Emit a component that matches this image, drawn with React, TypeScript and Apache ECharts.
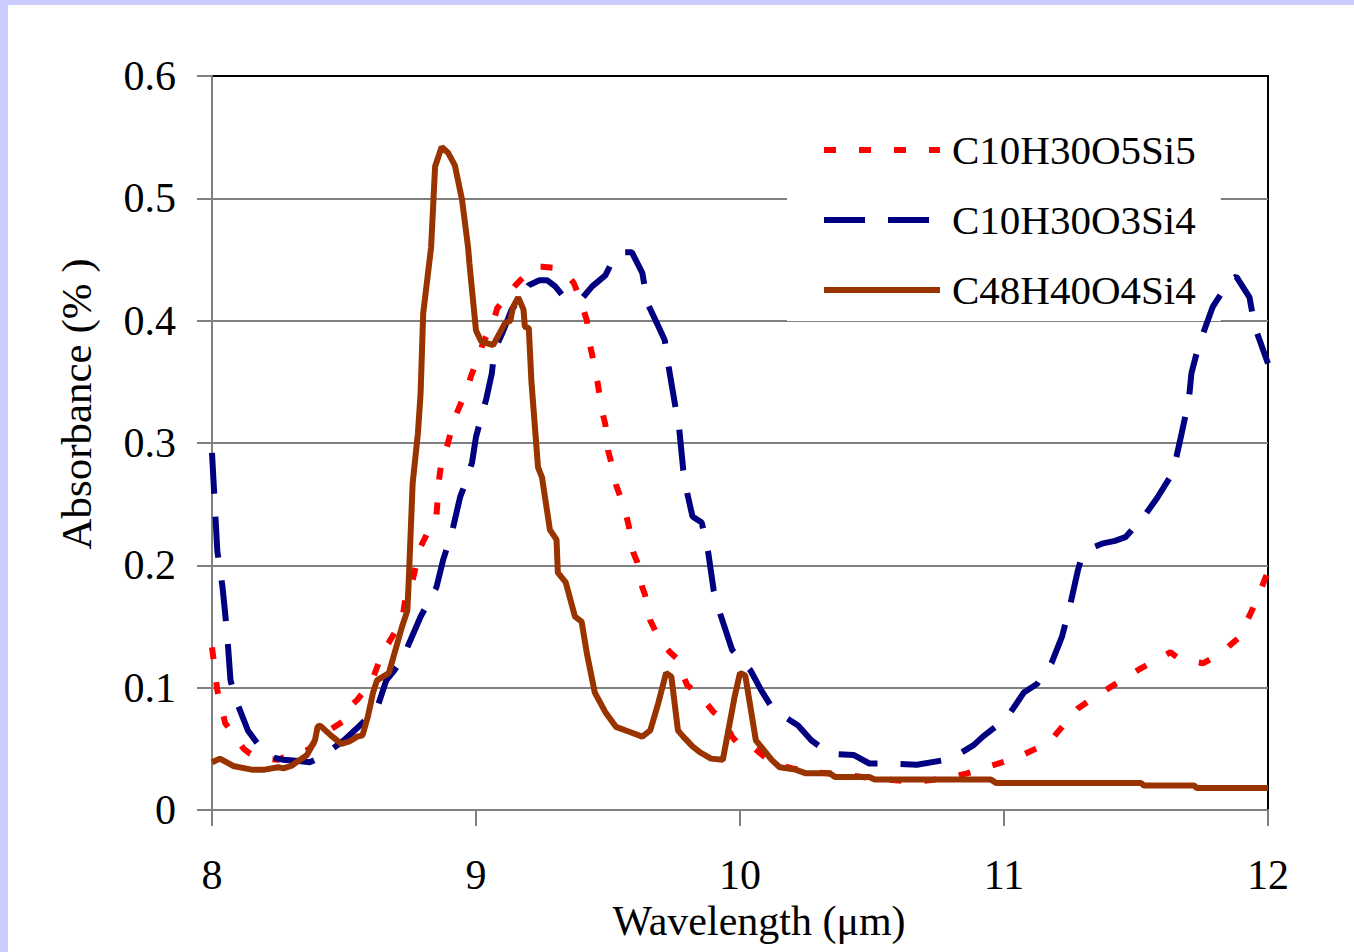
import React, { useEffect, useRef } from "react";
import * as echarts from "echarts";

const FONT = "'Liberation Serif', 'Times New Roman', serif";

const seriesNames = ["C10H30O5Si5", "C10H30O3Si4", "C48H40O4Si4"];

const xTicks = [8, 9, 10, 11, 12];
const yTicks = [0, 0.1, 0.2, 0.3, 0.4, 0.5, 0.6];

// C10H30O5Si5 (red, short dashes)
const redX = [8.0, 8.02, 8.05, 8.12, 8.145, 8.2, 8.25, 8.27, 8.33, 8.37, 8.4, 8.45, 8.5, 8.51, 8.55, 8.59, 8.61, 8.65, 8.67, 8.72, 8.74, 8.76, 8.79, 8.84, 8.85, 8.86, 8.875, 8.89, 8.92, 8.97, 8.98, 9.015, 9.027, 9.065, 9.08, 9.12, 9.15, 9.19, 9.216, 9.25, 9.3, 9.337, 9.37, 9.39, 9.41, 9.42, 9.43, 9.44, 9.46, 9.48, 9.49, 9.5, 9.51, 9.53, 9.545, 9.57, 9.58, 9.595, 9.61, 9.63, 9.64, 9.66, 9.68, 9.71, 9.735, 9.76, 9.78, 9.8, 9.83, 9.87, 9.9, 9.935, 9.97, 10.0, 10.045, 10.09, 10.14, 10.2, 10.27, 10.39, 10.5, 10.66, 10.79, 10.86, 10.92, 11.04, 11.1, 11.17, 11.22, 11.28, 11.34, 11.4, 11.46, 11.52, 11.58, 11.63, 11.655, 11.7, 11.755, 11.82, 11.89, 11.95, 12.0];
const redY = [0.133, 0.098, 0.071, 0.05, 0.046, 0.042, 0.041, 0.043, 0.046, 0.05, 0.059, 0.066, 0.073, 0.082, 0.09, 0.101, 0.108, 0.131, 0.137, 0.155, 0.183, 0.188, 0.215, 0.237, 0.24, 0.27, 0.294, 0.297, 0.321, 0.346, 0.354, 0.374, 0.382, 0.398, 0.41, 0.421, 0.429, 0.438, 0.444, 0.444, 0.443, 0.439, 0.431, 0.42, 0.407, 0.4, 0.382, 0.372, 0.35, 0.324, 0.315, 0.294, 0.286, 0.266, 0.257, 0.24, 0.231, 0.211, 0.203, 0.182, 0.176, 0.155, 0.146, 0.135, 0.129, 0.124, 0.112, 0.102, 0.097, 0.088, 0.08, 0.074, 0.06, 0.052, 0.052, 0.044, 0.037, 0.034, 0.031, 0.029, 0.026, 0.023, 0.026, 0.03, 0.034, 0.042, 0.048, 0.055, 0.068, 0.083, 0.092, 0.1, 0.108, 0.116, 0.123, 0.129, 0.125, 0.122, 0.12, 0.128, 0.141, 0.168, 0.195];

// C10H30O3Si4 (navy, long dashes)
const blueX = [8.0, 8.02, 8.04, 8.057, 8.07, 8.09, 8.105, 8.136, 8.17, 8.2, 8.23, 8.27, 8.33, 8.37, 8.4, 8.45, 8.5, 8.55, 8.625, 8.66, 8.69, 8.71, 8.74, 8.79, 8.81, 8.85, 8.875, 8.91, 8.94, 8.965, 8.985, 9.0, 9.04, 9.06, 9.07, 9.1, 9.135, 9.17, 9.2, 9.24, 9.27, 9.3, 9.33, 9.36, 9.405, 9.44, 9.49, 9.52, 9.545, 9.59, 9.63, 9.65, 9.685, 9.715, 9.73, 9.755, 9.77, 9.785, 9.8, 9.82, 9.855, 9.88, 9.9, 9.924, 9.97, 10.04, 10.08, 10.12, 10.17, 10.22, 10.27, 10.34, 10.43, 10.49, 10.58, 10.67, 10.78, 10.8, 10.885, 10.92, 11.01, 11.075, 11.125, 11.18, 11.22, 11.25, 11.28, 11.295, 11.33, 11.375, 11.42, 11.46, 11.53, 11.58, 11.64, 11.67, 11.7, 11.71, 11.74, 11.75, 11.79, 11.855, 11.88, 11.93, 11.95, 12.0];
const blueY = [0.292, 0.212, 0.182, 0.145, 0.106, 0.09, 0.082, 0.065, 0.055, 0.047, 0.043, 0.041, 0.04, 0.039, 0.042, 0.049, 0.057, 0.067, 0.083, 0.106, 0.114, 0.12, 0.133, 0.158, 0.166, 0.182, 0.204, 0.228, 0.256, 0.27, 0.284, 0.305, 0.337, 0.357, 0.376, 0.39, 0.409, 0.419, 0.429, 0.433, 0.433, 0.428, 0.42, 0.418, 0.419, 0.428, 0.437, 0.45, 0.456, 0.456, 0.439, 0.414, 0.398, 0.384, 0.362, 0.33, 0.311, 0.278, 0.259, 0.24, 0.235, 0.21, 0.18, 0.161, 0.131, 0.114, 0.098, 0.084, 0.076, 0.069, 0.057, 0.046, 0.045, 0.038, 0.038, 0.037, 0.041, 0.042, 0.053, 0.06, 0.075, 0.096, 0.103, 0.12, 0.142, 0.167, 0.196, 0.207, 0.214, 0.218, 0.22, 0.223, 0.24, 0.255, 0.276, 0.305, 0.335, 0.357, 0.382, 0.387, 0.411, 0.433, 0.436, 0.419, 0.395, 0.365];

// C48H40O4Si4 (brown, solid)
const brownX = [8.0, 8.03, 8.08, 8.15, 8.2, 8.25, 8.27, 8.3, 8.32, 8.36, 8.39, 8.4, 8.41, 8.45, 8.49, 8.52, 8.55, 8.57, 8.59, 8.61, 8.625, 8.67, 8.72, 8.74, 8.745, 8.76, 8.78, 8.79, 8.8, 8.83, 8.845, 8.87, 8.895, 8.92, 8.947, 8.97, 8.975, 9.0, 9.02, 9.065, 9.09, 9.11, 9.13, 9.14, 9.16, 9.18, 9.185, 9.2, 9.21, 9.235, 9.25, 9.28, 9.305, 9.31, 9.34, 9.375, 9.4, 9.42, 9.45, 9.49, 9.53, 9.58, 9.63, 9.66, 9.69, 9.72, 9.74, 9.765, 9.785, 9.82, 9.85, 9.89, 9.935, 9.98, 10.0, 10.02, 10.06, 10.12, 10.15, 10.21, 10.25, 10.34, 10.36, 10.49, 10.51, 10.95, 10.97, 11.52, 11.53, 11.72, 11.73, 12.0];
const brownY = [0.039, 0.042, 0.036, 0.033, 0.033, 0.035, 0.034, 0.036, 0.039, 0.045, 0.057, 0.068, 0.069, 0.061, 0.054, 0.056, 0.06, 0.061, 0.076, 0.096, 0.106, 0.112, 0.15, 0.163, 0.186, 0.267, 0.308, 0.34, 0.406, 0.46, 0.526, 0.542, 0.537, 0.527, 0.499, 0.46, 0.447, 0.392, 0.383, 0.38, 0.39, 0.398, 0.4, 0.411, 0.419, 0.409, 0.395, 0.394, 0.35, 0.28, 0.272, 0.229, 0.221, 0.194, 0.186, 0.158, 0.154, 0.128, 0.096, 0.08, 0.068, 0.064, 0.06, 0.065, 0.087, 0.112, 0.109, 0.065, 0.06, 0.052, 0.047, 0.042, 0.041, 0.093, 0.112, 0.11, 0.057, 0.041, 0.035, 0.033, 0.03, 0.03, 0.027, 0.027, 0.025, 0.025, 0.022, 0.022, 0.02, 0.02, 0.018, 0.018];

const zip = (xs: number[], ys: number[]) => xs.map((x, i) => [x, ys[i]]);

const makeSeries = (name: string, xs: number[], ys: number[], color: string, dash: any, width: number, z: number) => ({
  name,
  type: "line",
  data: zip(xs, ys),
  symbol: "none",
  lineStyle: { color, width, type: dash },
  itemStyle: { color },
  z,
});

export default function App() {
  const ref = useRef<HTMLDivElement>(null);

  useEffect(() => {
    if (!ref.current) return;
    const chart = echarts.init(ref.current, null, { renderer: "svg" });
    const option: any = {
      animation: false,
      grid: {
        left: 212,
        right: 86,
        top: 76,
        bottom: 142,
        show: true,
        borderColor: "#000",
        borderWidth: 2,
        backgroundColor: "transparent",
      },
      xAxis: {
        type: "value",
        min: xTicks[0],
        max: xTicks[xTicks.length - 1],
        interval: 1,
        axisLine: { show: true, onZero: false, lineStyle: { color: "#808080", width: 2 } },
        axisTick: { show: true, length: 16, lineStyle: { color: "#808080", width: 2 } },
        axisLabel: { color: "#000", fontFamily: FONT, fontSize: 42, lineHeight: 30, margin: 50 },
        splitLine: { show: false },
      },
      yAxis: {
        type: "value",
        min: yTicks[0],
        max: yTicks[yTicks.length - 1],
        interval: 0.1,
        axisLine: { show: true, lineStyle: { color: "#808080", width: 2 } },
        axisTick: { show: true, length: 15, lineStyle: { color: "#808080", width: 2 } },
        axisLabel: { color: "#000", fontFamily: FONT, fontSize: 42, margin: 36 },
        splitLine: { show: true, showMaxLine: false, lineStyle: { color: "#808080", width: 2 } },
      },
      legend: {
        orient: "vertical",
        left: 787,
        top: 118,
        backgroundColor: "#fff",
        padding: [11, 25, 10, 34],
        itemWidth: 116,
        itemHeight: 14,
        itemGap: 28,
        data: seriesNames,
        lineStyle: { width: 6 },
        itemStyle: { color: "transparent", borderColor: "transparent", borderWidth: 0, opacity: 0 },
        textStyle: {
          color: "#000",
          fontFamily: FONT,
          fontSize: 41,
          lineHeight: 42,
          padding: [0, 0, 0, 7],
        },
      },
      graphic: [
        {
          type: "text",
          x: 76,
          y: 404,
          rotation: Math.PI / 2,
          style: {
            text: "Absorbance (% )",
            font: `43px ${FONT}`,
            fill: "#000",
            textAlign: "center",
            textVerticalAlign: "middle",
          },
        },
        {
          type: "text",
          x: 759,
          y: 921,
          style: {
            text: "Wavelength (\u03bcm)",
            font: `42px ${FONT}`,
            lineHeight: 30,
            fill: "#000",
            textAlign: "center",
            textVerticalAlign: "middle",
          },
        },
      ],
      series: [
        makeSeries(seriesNames[0], redX, redY, "#ff0000", [12, 23], 6, 3),
        makeSeries(seriesNames[1], blueX, blueY, "#000080", [41, 23], 6, 4),
        makeSeries(seriesNames[2], brownX, brownY, "#993300", "solid", 6, 5),
      ],
    };
    chart.setOption(option);
    return () => chart.dispose();
  }, []);

  return (
    <div
      style={{
        position: "fixed",
        left: 0,
        top: 0,
        width: 1354,
        height: 952,
        background: "#ccccff",
        overflow: "hidden",
      }}
    >
      <div
        style={{
          position: "absolute",
          left: 8,
          top: 5,
          right: 0,
          bottom: 0,
          background: "#ffffff",
        }}
      />
      <div
        ref={ref}
        style={{ position: "absolute", left: 0, top: 0, width: 1354, height: 952 }}
      />
    </div>
  );
}
